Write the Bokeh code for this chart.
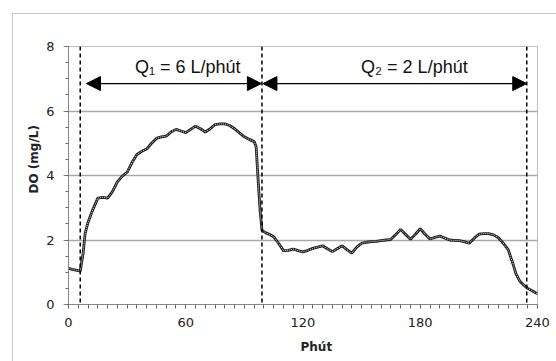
from bokeh.plotting import figure
from bokeh.models import (Range1d, Span, Arrow, NormalHead, Label,
                          SingleIntervalTicker, FixedTicker,
                          ColumnDataSource, Title)
from bokeh.embed import file_html
from bokeh.resources import INLINE

# Dissolved oxygen over time (minutes)
minutes = [0, 2.5, 5, 6, 7.5, 8.5, 10, 12.5, 15, 17.5, 20, 22.5, 25, 27.5, 30,
           32.5, 35, 37.5, 40, 42.5, 45, 47.5, 50, 52.5, 55, 57.5, 60, 62.5,
           65, 67.5, 70, 72.5, 75, 77.5, 80, 82.5, 85, 87.5, 90, 92.5, 95, 96,
           97, 98, 99, 101, 103, 105, 107.5, 110, 112.5, 115, 117.5, 120,
           122.5, 125, 127.5, 130, 132.5, 135, 137.5, 140, 142.5, 145, 147.5,
           150, 152.5, 155, 157.5, 160, 162.5, 165, 167.5, 170, 172.5, 175,
           177.5, 180, 182.5, 185, 187.5, 190, 192.5, 195, 197.5, 200, 202.5,
           205, 207.5, 210, 212.5, 215, 217.5, 220, 222.5, 225, 227.5, 229,
           231, 233, 235, 237.5, 240]
do_mg_l = [1.12, 1.08, 1.05, 1.03, 1.6, 2.2, 2.55, 2.95, 3.3, 3.32, 3.3, 3.5,
           3.8, 3.98, 4.1, 4.4, 4.65, 4.75, 4.82, 5.0, 5.15, 5.2, 5.22, 5.35,
           5.43, 5.38, 5.33, 5.43, 5.53, 5.45, 5.35, 5.45, 5.58, 5.6, 5.6,
           5.55, 5.45, 5.32, 5.2, 5.12, 5.05, 4.9, 3.9, 2.95, 2.3, 2.22, 2.17,
           2.1, 1.9, 1.67, 1.68, 1.72, 1.67, 1.63, 1.68, 1.74, 1.78, 1.82,
           1.73, 1.64, 1.73, 1.82, 1.7, 1.59, 1.78, 1.9, 1.93, 1.95, 1.96,
           1.98, 2.0, 2.02, 2.17, 2.33, 2.17, 2.02, 2.18, 2.35, 2.18, 2.03,
           2.08, 2.12, 2.06, 2.0, 1.99, 1.98, 1.95, 1.9, 2.05, 2.18, 2.2, 2.2,
           2.16, 2.07, 1.9, 1.7, 1.25, 0.95, 0.72, 0.6, 0.5, 0.42, 0.33]

# Flow-rate phases: boundaries (minutes) and labels
phase_marks = [6, 99, 234.5]
phase_labels = ["Q\u2081 = 6 L/phút", "Q\u2082 = 2 L/phút"]

# axis tick spacing: major every 60 min / 2 mg/L, minor every 5 min / 0.5 mg/L
x_major_step, x_minor_per_major = 60, 12
y_major_step, y_minor_per_major = 2, 4
grid_levels = [2, 4, 6, 8]

TICK_FONT = "DejaVu Sans"

p = figure(width=544, height=348, output_backend="svg", toolbar_location=None,
           x_range=Range1d(0, 240), y_range=Range1d(0, 8),
           min_border_left=55, min_border_right=20, min_border_top=32,
           min_border_bottom=58)
p.margin = (13, 0, 0, 12)
p.styles = {"border-left": "1px solid #c8c8c8", "border-top": "1px solid #c8c8c8"}
p.background_fill_color = "white"
p.border_fill_color = "white"
p.outline_line_color = "#c0c0c0"
p.outline_line_width = 1

# axes
p.xaxis.ticker = SingleIntervalTicker(interval=x_major_step,
                                      num_minor_ticks=x_minor_per_major)
p.yaxis.ticker = SingleIntervalTicker(interval=y_major_step,
                                      num_minor_ticks=y_minor_per_major)
for ax in (p.xaxis, p.yaxis):
    ax.axis_line_color = "#868686"
    ax.major_tick_line_color = "#868686"
    ax.minor_tick_line_color = "#6a6a6a"
    ax.minor_tick_line_width = 1
    ax.major_tick_in = 0
    ax.minor_tick_in = 0
    ax.major_label_text_font = TICK_FONT
    ax.major_label_text_font_size = "13px"
    ax.major_label_text_color = "#222222"
p.xaxis.major_tick_out = 4
p.xaxis.minor_tick_out = 4
p.xaxis.major_label_standoff = 9
p.yaxis.major_tick_out = 5
p.yaxis.minor_tick_out = 3
p.yaxis.major_label_standoff = 9

p.xgrid.visible = False
p.ygrid.ticker = FixedTicker(ticks=grid_levels)
p.ygrid.grid_line_color = "#a8a8a8"
p.ygrid.grid_line_width = 1.6

# axis titles
p.add_layout(Title(text="Phút", align="left", offset=232, standoff=17,
                   text_font=TICK_FONT, text_font_style="bold",
                   text_font_size="12px", text_color="#222222"), "below")
p.add_layout(Title(text="DO (mg/L)", align="left", offset=111, standoff=5,
                   text_font=TICK_FONT, text_font_style="bold",
                   text_font_size="12px", text_color="#222222"), "left")

# phase boundaries
for xm in phase_marks:
    p.add_layout(Span(location=xm, dimension="height", line_color="black",
                      line_dash="4 3", line_width=1.5))

# phase arrows
arrow_y = 6.85
spans = [(phase_marks[0] + 3.2, phase_marks[1] - 0.3),
         (phase_marks[1] + 0.5, phase_marks[2])]
for (x0, x1), lab in zip(spans, phase_labels):
    p.add_layout(Arrow(x_start=x0, y_start=arrow_y, x_end=x1, y_end=arrow_y,
                       line_color="black", line_width=1.2,
                       start=NormalHead(size=14, fill_color="black", line_color="black"),
                       end=NormalHead(size=14, fill_color="black", line_color="black")))

p.add_layout(Label(x=61, y=7.35, text=phase_labels[0], text_align="center",
                   text_baseline="middle", text_font="Liberation Sans",
                   text_font_size="18px", text_color="#111111"))
p.add_layout(Label(x=177, y=7.35, text=phase_labels[1], text_align="center",
                   text_baseline="middle", text_font="Liberation Sans",
                   text_font_size="18px", text_color="#111111"))

# DO curve: dark line with a light core for the chained look
src = ColumnDataSource(dict(t=minutes, do=do_mg_l))
p.line("t", "do", source=src, line_color="#1a1a1a", line_width=2.8)
p.line("t", "do", source=src, line_color="white", line_width=0.9, line_dash="1 1")

open("out.html", "w").write(file_html(p, INLINE))
